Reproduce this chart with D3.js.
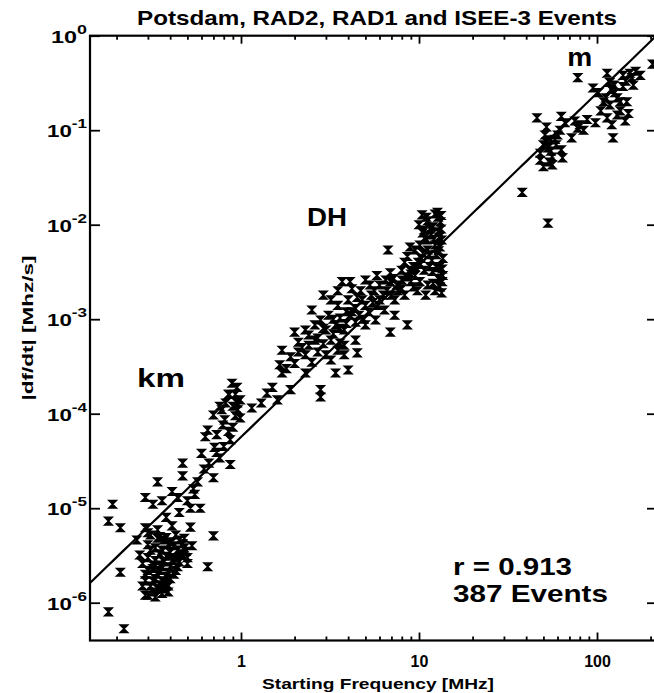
<!DOCTYPE html>
<html>
<head>
<meta charset="utf-8">
<script src="https://cdn.jsdelivr.net/npm/d3@7"></script>
<style>
  body { margin: 0; background: #fff; }
  text { font-family: "Liberation Sans", Arial, Helvetica, sans-serif; font-weight: bold; fill: #000; }
</style>
</head>
<body>
<svg id="chart" width="654" height="693"></svg>
<script>
// Kilometric events: [starting frequency (MHz), |df/dt| (MHz/s)]
const kmEvents = [
  [0.18,8.0e-7],[0.22,5.3e-7],[0.19,1.1e-5],[0.18,7.3e-6],[0.21,6.2e-6],[0.21,2.1e-6],
  [0.34,1.9e-5],[0.29,1.3e-5],[0.29,6.2e-6],[0.32,1.1e-5],[0.70,5.1e-6],[0.65,2.4e-6],
  [0.39,1.5e-6],[0.28,1.5e-6],[0.29,1.2e-6],[0.50,3.0e-6],[0.50,2.6e-6],[0.41,6.5e-6],
  [0.52,1.0e-5],[0.52,6.3e-6],[0.59,1.0e-5],[0.54,1.6e-5],[0.57,1.9e-5],[0.47,2.2e-5],
  [0.47,3.0e-5],[0.70,2.1e-5],[0.87,2.9e-5],[0.60,3.8e-5],[0.73,3.9e-5],[0.76,3.4e-5],
  [0.63,5.7e-5],[0.73,6.0e-5],[0.79,7.6e-5],[0.90,7.2e-5],[0.41,1.5e-5],[0.36,1.2e-5],
  [0.44,1.3e-5],[0.31,5.2e-6],[0.34,4.8e-6],[0.37,4.6e-6],[0.41,4.4e-6],[0.45,4.6e-6],
  [0.30,4.1e-6],[0.33,3.8e-6],[0.36,3.6e-6],[0.40,3.4e-6],[0.44,3.6e-6],[0.48,3.8e-6],
  [0.27,3.2e-6],[0.30,3.0e-6],[0.33,2.8e-6],[0.37,2.7e-6],[0.41,2.8e-6],[0.45,2.7e-6],
  [0.32,2.3e-6],[0.35,2.2e-6],[0.39,2.1e-6],[0.43,2.2e-6],[0.29,2.0e-6],[0.33,1.8e-6],
  [0.36,1.7e-6],[0.40,1.8e-6],[0.31,1.5e-6],[0.34,1.4e-6],[0.37,1.4e-6],[0.30,1.2e-6],
  [0.33,1.15e-6],[0.35,2.5e-6],[0.39,4.1e-6],[0.43,5.2e-6],[0.34,5.9e-6],[0.26,4.6e-6],
  [0.89,2.1e-4],[0.95,1.9e-4],[0.86,1.6e-4],[0.99,1.4e-4],[0.90,1.2e-4],[0.78,1.1e-4],
  [0.96,1.1e-4],[0.70,9.7e-5],[0.81,8.6e-5],[0.99,9.0e-5],[0.65,6.7e-5],[0.87,5.3e-5],
  [0.71,4.4e-5],[0.85,1.6e-4],[0.93,1.6e-4],
  [0.30,5.5e-6],[0.35,5.0e-6],[0.38,4.9e-6],[0.42,4.0e-6],[0.47,4.2e-6],[0.31,3.6e-6],
  [0.35,3.3e-6],[0.38,3.1e-6],[0.43,3.0e-6],[0.47,3.2e-6],[0.28,2.6e-6],[0.32,2.5e-6],
  [0.36,2.4e-6],[0.40,2.4e-6],[0.44,2.4e-6],[0.30,2.2e-6],[0.34,2.0e-6],[0.38,1.9e-6],
  [0.42,2.0e-6],[0.32,1.7e-6],[0.35,1.55e-6],[0.38,1.6e-6],[0.29,1.7e-6],[0.36,1.25e-6],
  [0.32,1.3e-6],[0.39,1.3e-6],[0.46,3.3e-6],[0.49,3.5e-6],[0.53,4.0e-6],[0.48,4.8e-6],
  [0.38,8.0e-6],[0.45,9.0e-6],[0.50,1.2e-5],[0.55,1.4e-5],[0.62,2.6e-5],[0.66,3.0e-5],
  [0.80,4.5e-5],[0.85,6.5e-5],[0.95,1.3e-4],[0.93,9.5e-5],[0.82,1.3e-4],[0.76,1.2e-4]
];

// Decametric–hectometric events
const dhEvents = [
  [1.5,1.9e-4],[1.7,2.7e-4],[1.9,1.8e-4],[1.6,1.4e-4],[2.3,2.7e-4],[2.8,1.8e-4],
  [2.8,1.5e-4],[3.4,2.7e-4],[4.0,2.9e-4],[3.5,4.7e-4],[4.5,4.4e-4],[3.6,5.6e-4],
  [2.3,4.2e-4],[1.7,4.7e-4],[2.0,7.3e-4],[2.4,6.8e-4],[2.5,1.25e-3],[2.9,1.8e-3],
  [3.7,2.5e-3],[5.0,2.6e-3],[6.0,2.3e-3],[6.9,2.5e-3],[6.7,5.4e-3],[6.9,3.1e-3],
  [6.9,7.3e-4],[8.6,8.7e-4],[8.9,5.8e-3],[8.6,4.6e-3],[9.3,3.6e-3],[9.3,2.2e-3],
  [10.5,8.2e-3],[11.0,6.9e-3],[12.0,9.5e-3],[12.8,1.2e-2],[13.1,5.8e-3],[13.1,3.6e-3],
  [13.1,2.2e-3],[2.1,5.7e-4],[2.4,5.3e-4],[2.7,6.3e-4],[3.0,7.7e-4],[3.2,6.0e-4],
  [3.4,8.7e-4],[3.6,1.03e-3],[3.8,7.7e-4],[4.1,1.1e-3],[4.4,9.3e-4],[3.1,1.1e-3],
  [3.5,1.4e-3],[4.0,1.6e-3],[4.4,1.3e-3],[4.8,1.6e-3],[5.2,1.2e-3],[5.4,1.8e-3],
  [5.9,1.4e-3],[6.3,1.8e-3],[4.7,2.0e-3],[4.2,2.1e-3],[5.3,2.3e-3],[6.4,1.25e-3],
  [7.3,1.6e-3],[7.6,2.0e-3],[8.0,2.6e-3],[8.3,1.8e-3],[7.3,1.1e-3],[5.7,9.8e-4],
  [5.0,8.7e-4],[3.8,5.3e-4],[4.4,6.0e-4],[2.8,9.8e-4],[2.6,8.7e-4],[2.3,7.7e-4],
  [3.2,1.6e-3],[3.5,2.0e-3],[10.4,1.27e-2],[11.2,1.1e-2],[12.3,1.3e-2],[13.2,1.07e-2],
  [10.7,8.8e-3],[11.7,7.8e-3],[12.8,8.4e-3],[10.1,6.1e-3],[11.2,5.4e-3],[12.3,6.1e-3],
  [13.4,6.9e-3],[10.3,4.4e-3],[11.8,4.2e-3],[12.5,4.8e-3],[13.6,4.4e-3],[10.7,3.3e-3],
  [11.9,3.2e-3],[12.8,2.7e-3],[13.6,2.9e-3],[10.1,2.5e-3],[11.2,2.3e-3],[12.3,2.0e-3],
  [13.4,1.9e-3],[10.9,1.8e-3],[9.5,2.9e-3],[9.9,4.0e-3],[9.5,5.4e-3],[8.9,3.3e-3],
  [8.3,4.0e-3],[1.3,1.3e-4],[1.15,1.15e-4],[1.4,1.65e-4],[1.65,3.3e-4],[1.9,4.0e-4],
  [2.1,4.5e-4],[2.5,3.5e-4],[3.0,4.2e-4],[3.2,3.7e-4],[3.8,4.2e-4],
  [1.8,3.0e-4],[2.0,3.4e-4],[2.2,5.0e-4],[2.6,6.0e-4],[2.7,4.5e-4],[2.9,5.5e-4],
  [3.3,7.0e-4],[3.6,8.0e-4],[3.9,9.0e-4],[4.2,1.2e-3],[4.6,1.1e-3],[5.0,1.4e-3],
  [5.5,1.5e-3],[6.0,1.6e-3],[6.6,2.0e-3],[7.0,1.8e-3],[7.5,2.3e-3],[8.0,2.1e-3],
  [8.5,2.8e-3],[9.0,3.0e-3],[9.5,3.6e-3],[8.0,3.3e-3],[7.2,2.7e-3],[6.5,2.6e-3],
  [5.6,2.0e-3],[4.5,1.7e-3],[3.9,1.2e-3],[3.3,1.0e-3],[2.9,8.0e-4],[4.9,1.0e-3],
  [10.2,3.8e-3],[11.5,3.6e-3],[12.6,3.5e-3],[13.5,3.4e-3],[10.5,5.0e-3],[11.4,4.8e-3],
  [12.9,5.3e-3],[10.8,7.3e-3],[12.1,7.0e-3],[13.0,7.4e-3],[11.5,9.0e-3],[13.3,9.0e-3],
  [10.0,1.0e-2],[11.0,1.2e-2],[12.7,1.35e-2],[13.3,1.25e-2],[9.0,2.5e-3],[9.8,2.0e-3],
  [12.0,2.4e-3],[13.5,2.5e-3],[4.1,2.5e-3],[5.8,2.9e-3]
];

// Metric events
const mEvents = [
  [78,0.36],[95,0.28],[114,0.40],[118,0.32],[153,0.40],[140,0.29],[130,0.22],[147,0.20],
  [118,0.185],[114,0.135],[130,0.145],[98,0.12],[123,0.083],[46,0.135],[63,0.14],[52,0.108],
  [51,0.089],[78,0.105],[84,0.10],[72,0.083],[80,0.114],[50,0.070],[53,0.065],[59,0.070],
  [63,0.062],[48,0.057],[56,0.052],[64,0.051],[50,0.041],[56,0.043],[38,0.022],[53,0.0104],
  [135,0.16],[157,0.36],[175,0.38],[126,0.25],[144,0.125],[109,0.20],[121,0.114],[55,0.079],
  [60,0.089],[55,0.060],[52,0.075],[58,0.080],[62,0.10],[66,0.12],[75,0.125],[88,0.13],
  [105,0.16],[112,0.22],[125,0.30],[135,0.20],[145,0.33],[160,0.30],[150,0.15],[102,0.25],
  [120,0.27],[165,0.42],[140,0.38],[48,0.048],[54,0.046],[205,0.50]
];

// Power-law fit |df/dt| = A * f^b
const fitCoefficient = 5.66e-5;
const fitExponent = 1.82;

const xMajorTicks = [1, 10, 100];
const xMinorTicks = [0.2,0.3,0.4,0.5,0.6,0.7,0.8,0.9,2,3,4,5,6,7,8,9,20,30,40,50,60,70,80,90,200];
const yTickExponents = [0, -1, -2, -3, -4, -5, -6];

const titleText = "Potsdam, RAD2, RAD1 and ISEE-3 Events";
const xAxisTitle = "Starting Frequency [MHz]";
const yAxisTitle = "|df/dt|  [Mhz/s]";
const populationLabels = [
  { text: "km", f: 0.355, d: 1.92e-4, w: 48 },
  { text: "DH", f: 3.04,  d: 9.7e-3,  w: 40 },
  { text: "m",  f: 80,    d: 0.48,    w: 25 }
];
const statLines = ["r = 0.913", "387 Events"];
const statWidths = [119, 155];

// ---- layout ----
const plot = { left: 90, right: 656, top: 35.7, bottom: 640.5 };
const svg = d3.select("#chart");

const x = d3.scaleLog().domain([0.1418, 214.5]).range([plot.left, plot.right]);
const y = d3.scaleLog().domain([Math.pow(10, -6.4), 1]).range([plot.bottom, plot.top]);

svg.append("clipPath").attr("id", "plotClip")
  .append("rect")
  .attr("x", plot.left).attr("y", plot.top)
  .attr("width", plot.right - plot.left).attr("height", plot.bottom - plot.top);

// Frame
svg.append("rect")
  .attr("x", plot.left).attr("y", plot.top)
  .attr("width", plot.right - plot.left).attr("height", plot.bottom - plot.top)
  .attr("fill", "none").attr("stroke", "#000").attr("stroke-width", 2.2);

function styleAxis(g) {
  g.select(".domain").remove();
  g.selectAll(".tick line").attr("stroke", "#000").attr("stroke-width", 1.8);
}
// Bottom axis: minor + major inward ticks, labels on majors
svg.append("g").attr("transform", `translate(0,${plot.bottom})`)
  .call(d3.axisBottom(x).tickValues(xMinorTicks).tickSize(-4).tickFormat(""))
  .call(styleAxis);
svg.append("g").attr("transform", `translate(0,${plot.bottom})`)
  .call(d3.axisBottom(x).tickValues(xMajorTicks).tickSize(-8).tickPadding(15).tickFormat(d3.format("d")))
  .call(styleAxis)
  .call(g => g.selectAll("text").attr("font-size", 16).attr("fill", "#000")
    .attr("font-family", "Liberation Sans, Arial, sans-serif").attr("font-weight", "bold"));

// Top axis ticks
svg.append("g").attr("transform", `translate(0,${plot.top})`)
  .call(d3.axisTop(x).tickValues(xMinorTicks).tickSize(-4).tickFormat(""))
  .call(styleAxis);
svg.append("g").attr("transform", `translate(0,${plot.top})`)
  .call(d3.axisTop(x).tickValues(xMajorTicks).tickSize(-8).tickFormat(""))
  .call(styleAxis);

// Left / right axis ticks at decades
const yDecades = yTickExponents.map(e => Math.pow(10, e));
svg.append("g").attr("transform", `translate(${plot.left},0)`)
  .call(d3.axisLeft(y).tickValues(yDecades).tickSize(-10).tickFormat(""))
  .call(styleAxis);
svg.append("g").attr("transform", `translate(${plot.right},0)`)
  .call(d3.axisRight(y).tickValues(yDecades).tickSize(-9).tickFormat(""))
  .call(styleAxis);

// Left axis labels as 10^n
const yLab = svg.append("g");
yTickExponents.forEach(e => {
  const t = yLab.append("text")
    .attr("x", plot.left - 3)
    .attr("y", y(Math.pow(10, e)) + 7)
    .attr("text-anchor", "end")
    .attr("font-size", 17)
    .attr("textLength", e === 0 ? 36 : 40)
    .attr("lengthAdjust", "spacingAndGlyphs");
  t.append("tspan").text("10");
  t.append("tspan").attr("dy", -9).attr("font-size", 13).text(e === 0 ? "0" : "-" + Math.abs(e));
});

// Fit line
const fitDomain = x.domain();
const fitPoints = d3.range(0, 101).map(i => {
  const lf = Math.log10(fitDomain[0]) + (Math.log10(fitDomain[1]) - Math.log10(fitDomain[0])) * i / 100;
  const f = Math.pow(10, lf);
  return [f, fitCoefficient * Math.pow(f, fitExponent)];
});
svg.append("path")
  .attr("clip-path", "url(#plotClip)")
  .attr("d", d3.line().x(d => x(d[0])).y(d => y(d[1]))(fitPoints))
  .attr("fill", "none").attr("stroke", "#000").attr("stroke-width", 2.2);

// Event markers (bold hourglass crosses)
const marker = "M-3.8,-3.8H3.8L-3.8,3.8H3.8Z";
const allEvents = kmEvents.concat(dhEvents, mEvents);
svg.append("g").attr("clip-path", "url(#plotClip)").selectAll("path")
  .data(allEvents).join("path")
  .attr("transform", d => `translate(${x(d[0])},${y(d[1])})`)
  .attr("d", marker)
  .attr("fill", "#000").attr("stroke", "#000").attr("stroke-width", 1.5).attr("stroke-linejoin", "miter");

// Population labels
svg.append("g").selectAll("text")
  .data(populationLabels).join("text")
  .attr("x", d => x(d.f)).attr("y", d => y(d.d))
  .attr("text-anchor", "middle")
  .attr("font-size", 25)
  .attr("textLength", d => d.w).attr("lengthAdjust", "spacingAndGlyphs")
  .text(d => d.text);

// Correlation statistics
svg.append("g").selectAll("text")
  .data(statLines).join("text")
  .attr("x", 453).attr("y", (d, i) => 575 + i * 27)
  .attr("font-size", 24)
  .attr("textLength", (d, i) => statWidths[i]).attr("lengthAdjust", "spacingAndGlyphs")
  .text(d => d);

// Titles
svg.append("text").attr("x", 377).attr("y", 25).attr("text-anchor", "middle")
  .attr("font-size", 21).attr("textLength", 480).attr("lengthAdjust", "spacingAndGlyphs")
  .text(titleText);
svg.append("text").attr("x", 378).attr("y", 689).attr("text-anchor", "middle")
  .attr("font-size", 15).attr("textLength", 232).attr("lengthAdjust", "spacingAndGlyphs")
  .text(xAxisTitle);
svg.append("text")
  .attr("transform", `translate(33,328) rotate(-90)`)
  .attr("text-anchor", "middle")
  .attr("font-size", 15).attr("textLength", 145).attr("lengthAdjust", "spacingAndGlyphs")
  .text(yAxisTitle);
</script>
</body>
</html>
